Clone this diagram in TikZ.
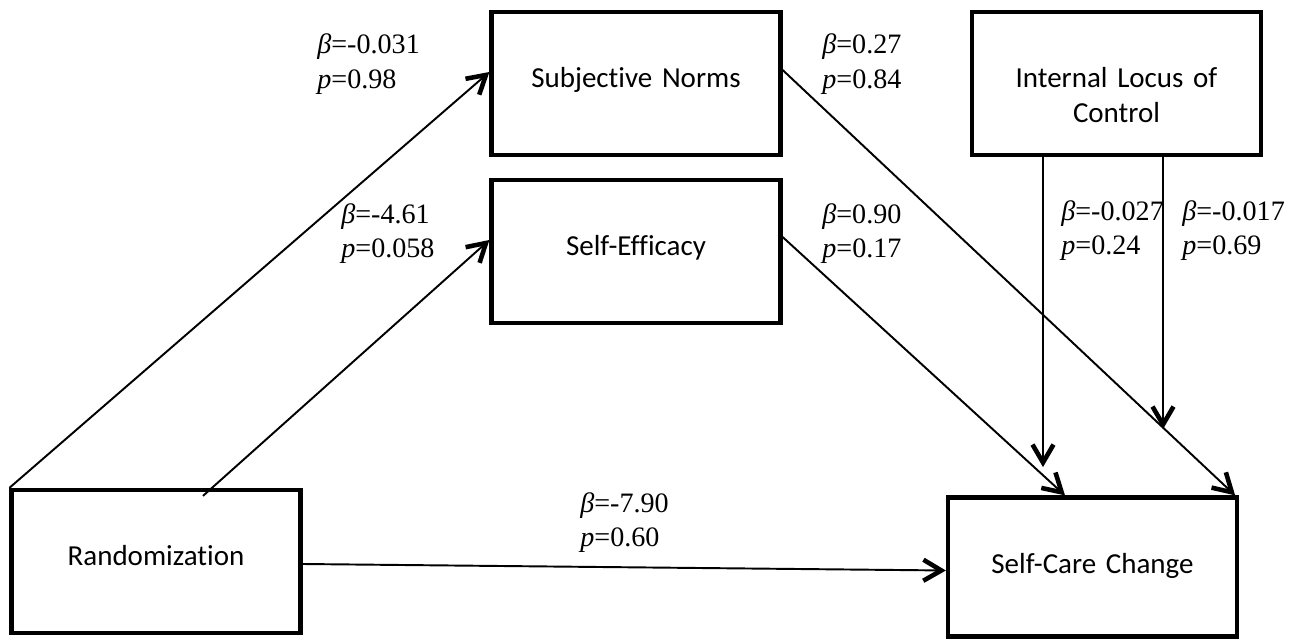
\documentclass[tikz,border=0pt]{standalone}
\usepackage{fontspec}
\setmainfont{Liberation Serif}
\newfontfamily\boxfont[Ligatures=NoCommon]{Carlito}
\usetikzlibrary{positioning, arrows.meta, calc}

\tikzset{
    box/.style={draw, line width=2.4pt, minimum width=5.78cm, inner sep=0pt,
        text width=5.6cm, align=center, text height=1.52cm, text depth=1.34cm,
        font=\boxfont\fontsize{16.5}{19.8}\selectfont},
    coef/.style={align=left, anchor=west, inner sep=0pt,
        font=\fontsize{16}{19.8}\selectfont},
    effect/.style={line width=1.1pt, -{Straight Barb[length=0.36cm, width=0.42cm, line width=2.6pt]}}
}

\begin{document}
\begin{tikzpicture}
    \useasboundingbox (0,0) rectangle (25.98,12.82);

    % ---------------------------------------------------
    % Boxes
    % ---------------------------------------------------
    \node[box] (rand) at (3.12, 1.59) {Randomization};
    \node[box] (sn)   at (12.72, 11.15) {Subjective Norms};
    \node[box] (se)   at (12.72, 7.79) {Self-Efficacy};
    \node[box] (ilc)  at (22.33, 11.15) {Internal Locus of\\Control};
    \node[box, text depth=1.26cm] (scc) at (21.85, 1.48) {Self-Care Change};

    % moderator ends
    \coordinate (mod1) at ($(ilc.south)+(-1.47,-6.2)$);
    \coordinate (mod2) at ($(ilc.south)+(0.93,-5.44)$);

    % ---------------------------------------------------
    % Paths
    % ---------------------------------------------------
    \draw[effect] (rand.north west) -- ([yshift=0.23cm]sn.west);
    \draw[effect] ([xshift=0.94cm, yshift=-0.16cm]rand.north) -- ([yshift=0.23cm]se.west);
    \draw[effect] ([yshift=-0.05cm]rand.east) -- ([yshift=-0.07cm]scc.west);
    \draw[effect] ([yshift=0.27cm]sn.east) -- ([xshift=-0.08cm]scc.north east);
    \draw[effect] ([yshift=0.29cm]se.east) -- ([xshift=-0.55cm]scc.north);
    \draw[effect] ([xshift=-1.47cm]ilc.south) -- (mod1);
    \draw[effect] ([xshift=0.93cm]ilc.south) -- (mod2);

    % ---------------------------------------------------
    % Coefficients
    % ---------------------------------------------------
    \node[coef] (c-rsn)  at (6.34, 11.53) {\textit{β}=-0.031\\\textit{p}=0.98};
    \node[coef] (c-rse)  at (6.82, 8.15)  {\textit{β}=-4.61\\\textit{p}=0.058};
    \node[coef] (c-sn)   at (16.44, 11.53) {\textit{β}=0.27\\\textit{p}=0.84};
    \node[coef] (c-se)   at (16.44, 8.15)  {\textit{β}=0.90\\\textit{p}=0.17};
    \node[coef] (c-ilc1) at (21.22, 8.21)  {\textit{β}=-0.027\\\textit{p}=0.24};
    \node[coef] (c-ilc2) at (23.64, 8.21)  {\textit{β}=-0.017\\\textit{p}=0.69};
    \node[coef] (c-rscc) at (11.6, 2.37)   {\textit{β}=-7.90\\\textit{p}=0.60};

\end{tikzpicture}
\end{document}
